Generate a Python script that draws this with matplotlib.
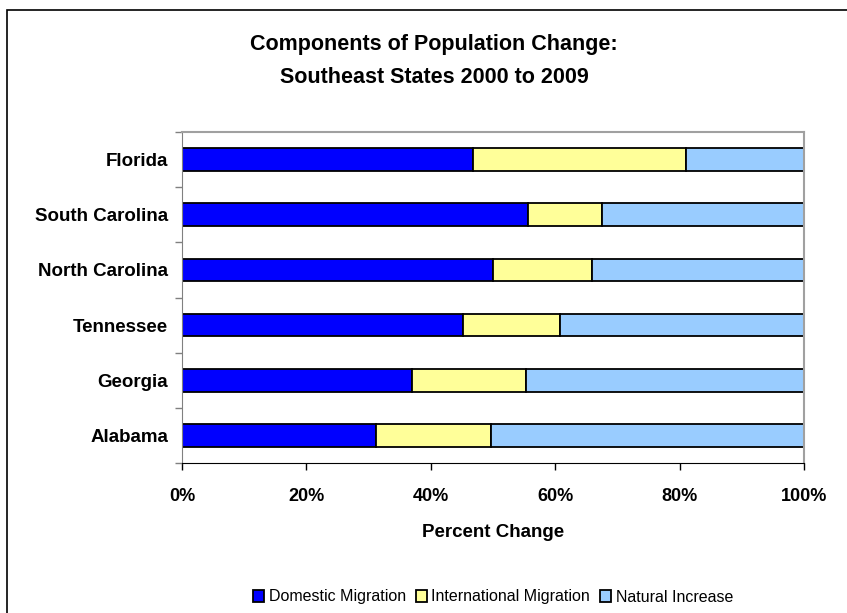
import matplotlib
matplotlib.use("Agg")
from matplotlib import pyplot as plt
from matplotlib.patches import Rectangle
from matplotlib.ticker import FixedLocator, PercentFormatter

plt.rcParams['font.family'] = ['Liberation Sans', 'DejaVu Sans']

states = ['Florida', 'South Carolina', 'North Carolina', 'Tennessee', 'Georgia', 'Alabama']
domestic = [46.8, 55.6, 50.0, 45.2, 36.9, 31.2]
international = [34.2, 11.9, 15.9, 15.6, 18.4, 18.5]
natural = [19.0, 32.5, 34.1, 39.2, 44.7, 50.3]
series_names = ['Domestic Migration', 'International Migration', 'Natural Increase']
colors = ['#0000FF', '#FFFF99', '#99CCFF']

fig = plt.figure(figsize=(8.47, 6.13), dpi=100)
# outer chart frame
fig.patches.append(Rectangle((7 / 847, -0.01), 1.0, 1 - 10 / 613 + 0.01,
                             transform=fig.transFigure, fill=False,
                             edgecolor='black', linewidth=1.2))

ax = fig.add_axes([182 / 847, 1 - 463 / 613, (804 - 182) / 847, (463 - 132) / 613])

# bottom row in the picture is last in the list
ypos = list(range(len(states)))[::-1]
left = [0] * len(states)
for name, vals, c in zip(series_names, [domestic, international, natural], colors):
    ax.barh(ypos, vals, left=left, height=0.41, color=c, edgecolor='black',
            linewidth=1.3, label=name)
    left = [l + v for l, v in zip(left, vals)]

ax.set_xlim(0, 100)
ax.set_ylim(-0.5, len(states) - 0.5)
ax.xaxis.set_major_locator(FixedLocator([0, 20, 40, 60, 80, 100]))
ax.xaxis.set_major_formatter(PercentFormatter(decimals=0))
ax.set_yticks(ypos)
ax.set_yticklabels(states)
ax.yaxis.set_minor_locator(FixedLocator([i + 0.5 for i in range(-1, len(states))]))
ax.tick_params(axis='y', which='major', length=0, pad=10)
ax.tick_params(axis='y', which='minor', length=5, width=1, color='#808080')
ax.tick_params(axis='x', length=5, width=1, color='black', pad=13)
for lab in ax.get_xticklabels():
    lab.set_fontsize(13)
    lab.set_fontweight('bold')
for lab in ax.get_yticklabels():
    lab.set_fontsize(13.5)
    lab.set_fontweight('bold')

for s in ['top', 'right']:
    ax.spines[s].set_color('#A0A0A0')
    ax.spines[s].set_linewidth(1.5)
ax.spines['left'].set_color('#808080')
ax.spines['bottom'].set_color('black')

ax.set_xlabel('Percent Change', fontsize=13.5, fontweight='bold', labelpad=14)

fig.text(434 / 847, 1 - 61 / 613, 'Components of Population Change:\nSoutheast States 2000 to 2009',
         ha='center', va='center', fontsize=15.5, fontweight='bold', linespacing=1.75)

fig.legend(loc='center', bbox_to_anchor=(493 / 847, 1 - 597 / 613), ncol=3,
           frameon=False, fontsize=11.5, handlelength=0.7, handleheight=0.7,
           handletextpad=0.3, columnspacing=0.6)

fig.savefig('out.png', dpi=100)
